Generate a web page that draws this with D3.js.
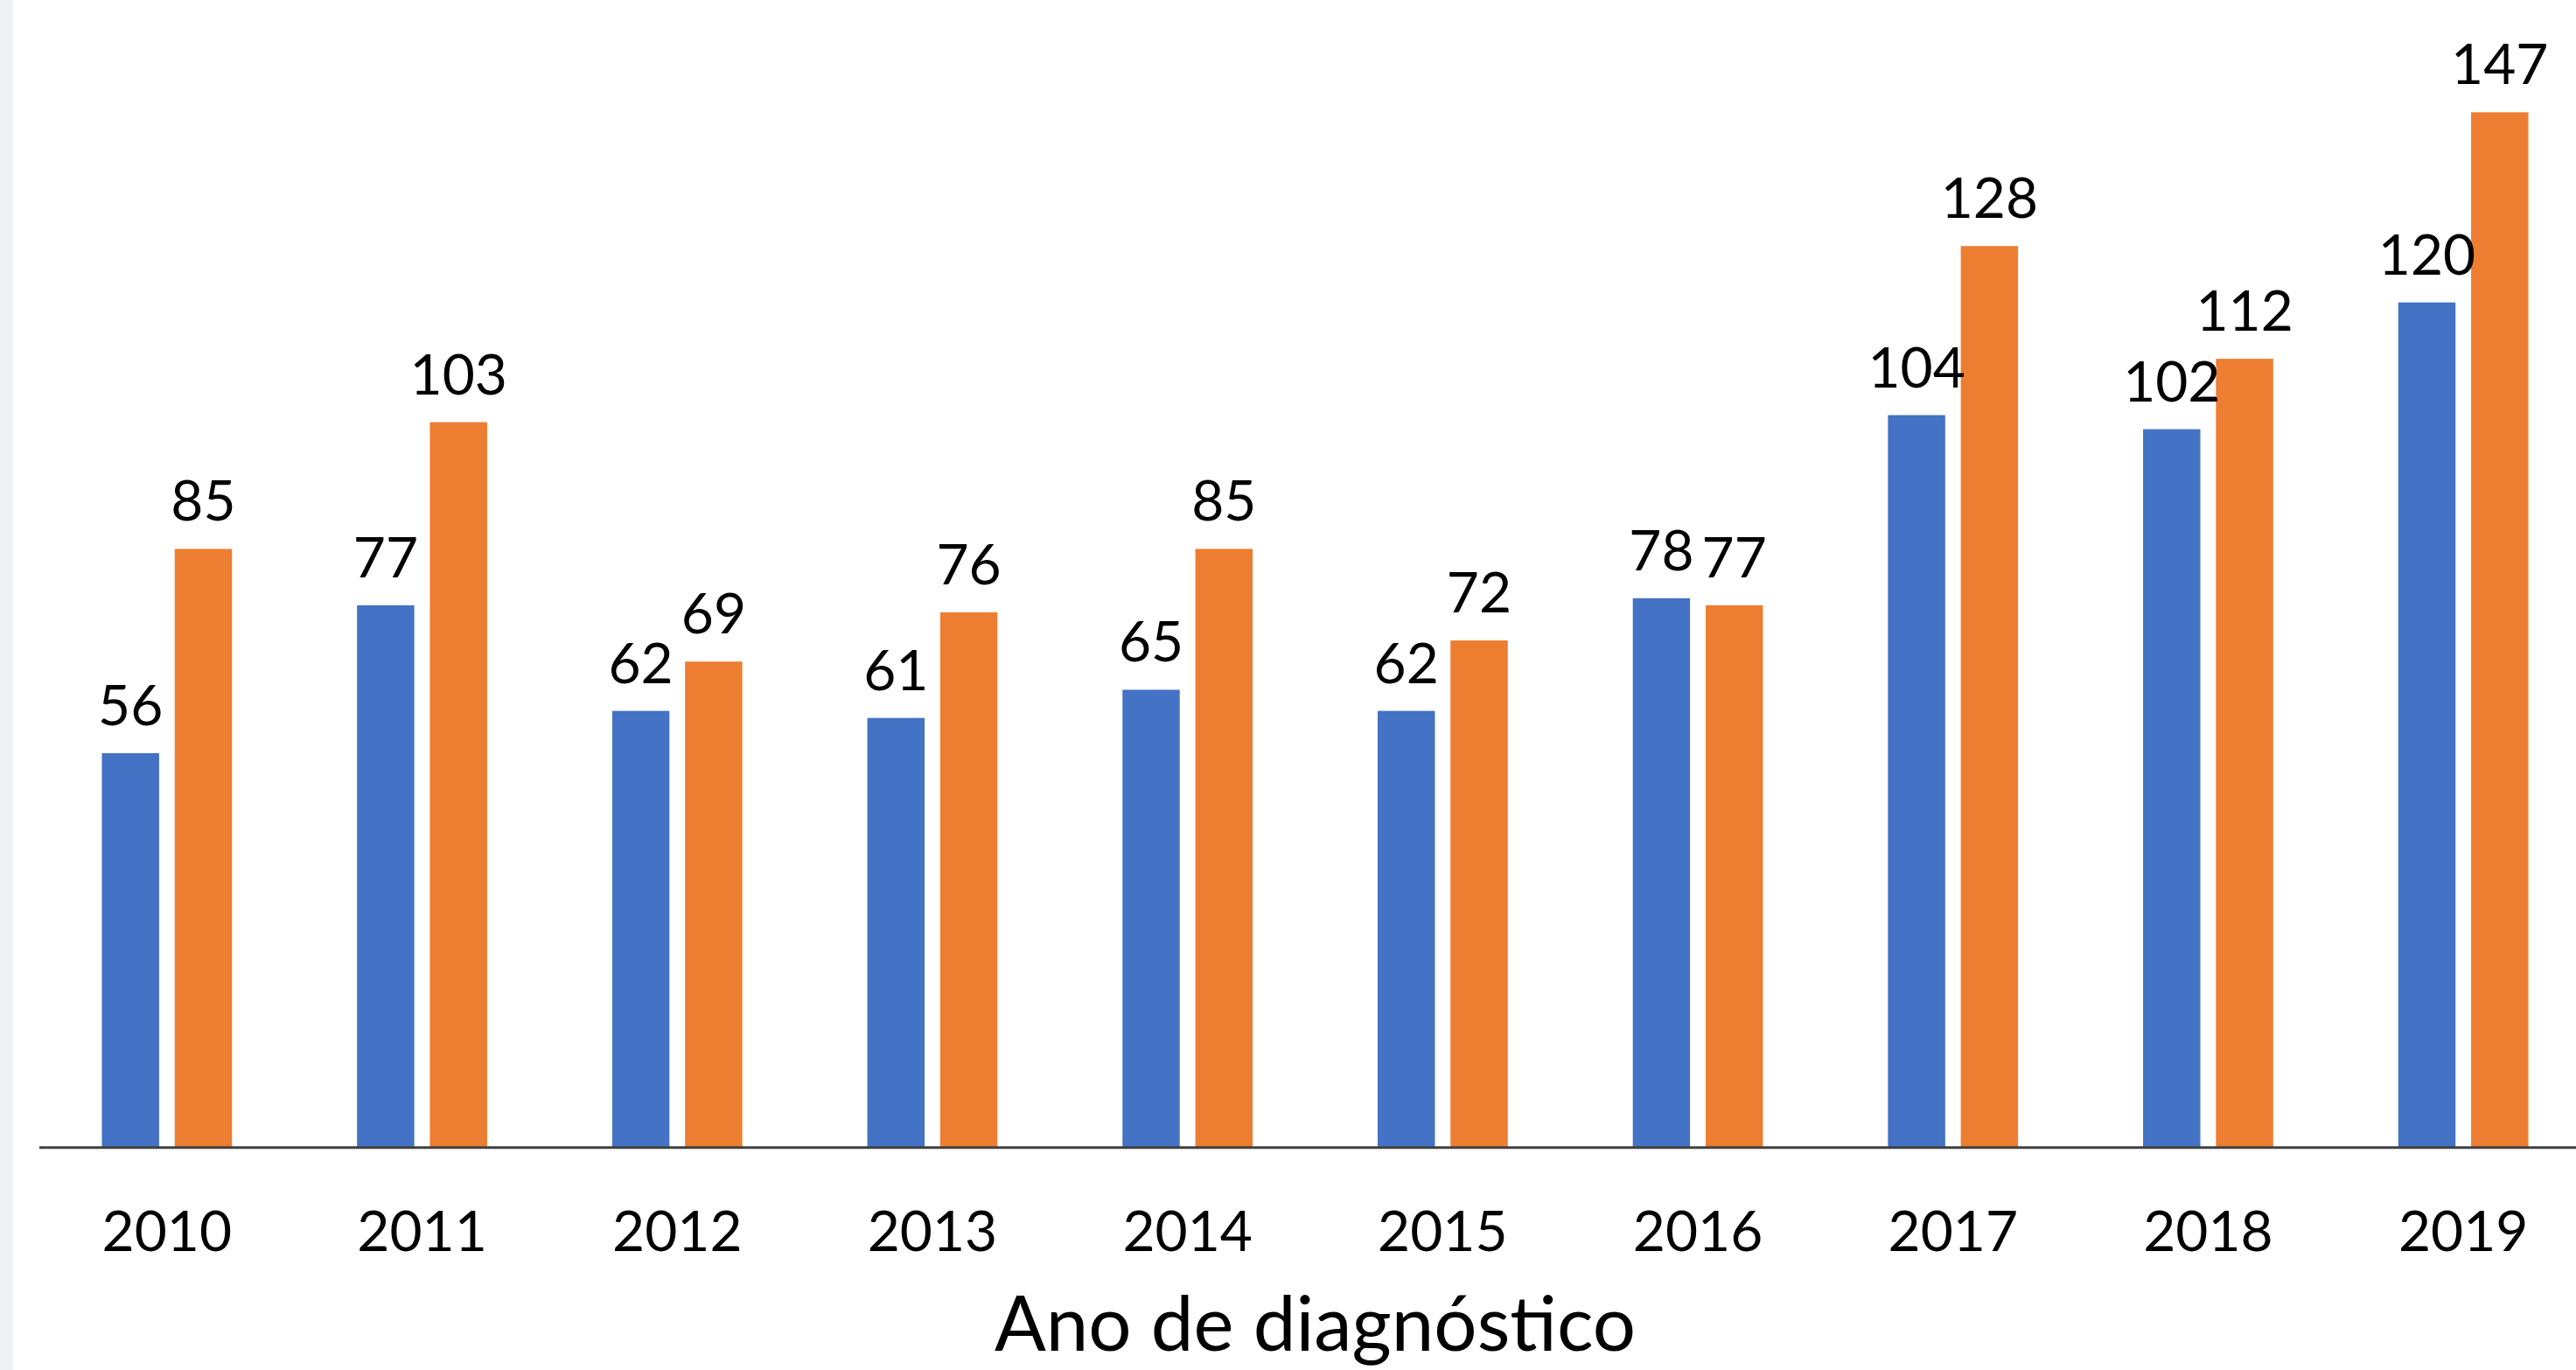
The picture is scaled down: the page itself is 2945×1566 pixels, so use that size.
<!DOCTYPE html>
<html>
<head>
<meta charset="utf-8">
<script src="https://cdn.jsdelivr.net/npm/d3@7"></script>
<style>
    html, body { margin: 0; padding: 0; background: #fff; }
    svg { display: block; }
    text { font-family: Lato, "Open Sans", sans-serif; fill: #000; }
</style>
</head>
<body>
<div class="chart"></div>
<script>
const years = ["2010", "2011", "2012", "2013", "2014", "2015", "2016", "2017", "2018", "2019"];
const series = ["s1", "s2"];
const blueValues = [56, 77, 62, 61, 65, 62, 78, 104, 102, 120];
const orangeValues = [85, 103, 69, 76, 85, 72, 77, 128, 112, 147];
const colors = ["#4472C4", "#ED7D31"];
const axisTitle = "Ano de diagnóstico";

const width = 2945, height = 1566;
const margin = { left: 45, right: -17, baseline: 1311.7 };

const data = years.map((y, i) => ({ year: y, values: [blueValues[i], orangeValues[i]] }));

const svg = d3.select(".chart")
    .append("svg")
    .attr("width", width)
    .attr("height", height);

// grey strip on the left edge
svg.append("rect")
    .attr("x", 0).attr("y", 0)
    .attr("width", 15).attr("height", height)
    .attr("fill", "#edf1f3");

// scales
const x0 = d3.scaleBand()
    .domain(years)
    .range([margin.left, width - margin.right])
    .paddingInner(0.49)
    .paddingOuter(0.245);

const x1 = d3.scaleBand()
    .domain(series)
    .range([0, x0.bandwidth()])
    .paddingInner(0.214);

const y = d3.scaleLinear()
    .domain([0, 150])
    .range([margin.baseline, margin.baseline - 150 * 8.05]);

// bars
const groups = svg.selectAll("g.year")
    .data(data)
    .join("g")
    .attr("class", "year")
    .attr("transform", d => `translate(${x0(d.year)},0)`);

groups.selectAll("rect")
    .data(d => d.values.map((v, i) => ({ key: series[i], value: v, idx: i })))
    .join("rect")
    .attr("x", d => x1(d.key))
    .attr("y", d => y(d.value))
    .attr("width", x1.bandwidth())
    .attr("height", d => y(0) - y(d.value))
    .attr("fill", d => colors[d.idx]);

// value labels
groups.selectAll("text.val")
    .data(d => d.values.map((v, i) => ({ key: series[i], value: v })))
    .join("text")
    .attr("class", "val")
    .attr("x", d => x1(d.key) + x1.bandwidth() / 2)
    .attr("y", d => y(d.value) - 32)
    .attr("text-anchor", "middle")
    .style("font-size", "64px")
    .text(d => d.value);

// x axis
const xAxis = svg.append("g")
    .attr("transform", `translate(0,${margin.baseline})`)
    .call(d3.axisBottom(x0).tickSize(0).tickPadding(0));

xAxis.select(".domain")
    .attr("d", `M${margin.left},0H${width}`)
    .attr("stroke", "#404040")
    .attr("stroke-width", 3);

xAxis.selectAll(".tick text")
    .attr("dy", null)
    .attr("y", 1430 - margin.baseline)
    .style("font-size", "64px")
    .style("font-family", "Lato, 'Open Sans', sans-serif")
    .attr("fill", "#000");

// axis title
svg.append("text")
    .attr("x", (x0.range()[0] + x0.range()[1]) / 2)
    .attr("y", 1544)
    .attr("text-anchor", "middle")
    .style("font-size", "87px")
    .text(axisTitle);
</script>
</body>
</html>
